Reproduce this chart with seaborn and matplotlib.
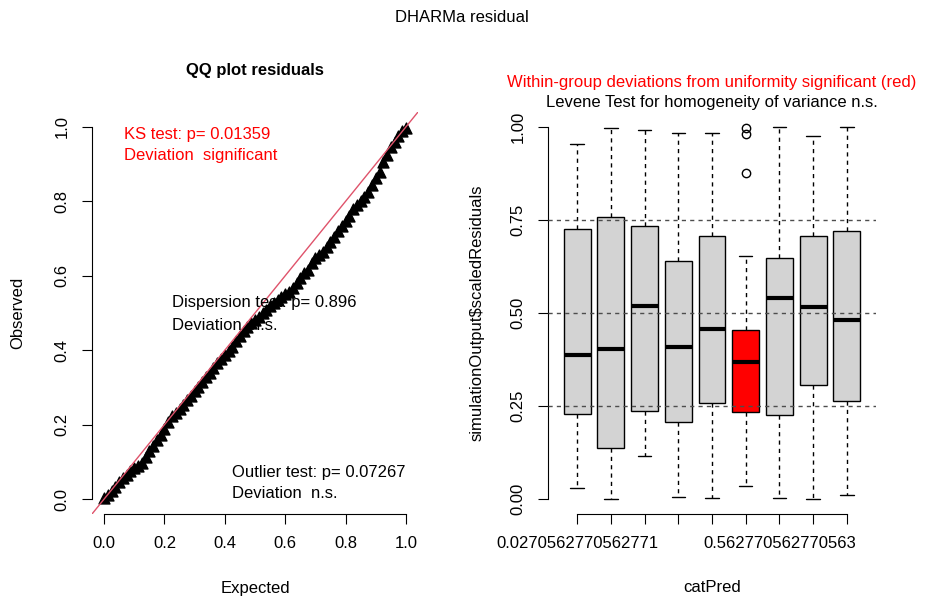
import numpy as np
import pandas as pd
import seaborn as sns
import matplotlib
matplotlib.use("Agg")
import matplotlib.pyplot as plt

# QQ plot: expected vs observed quantiles of the scaled residuals
expected = [0.0, 0.0125, 0.025, 0.0375, 0.05, 0.0625, 0.075, 0.0875, 0.1, 0.1125,
            0.125, 0.1375, 0.15, 0.1625, 0.175, 0.1875, 0.2, 0.2125, 0.225, 0.2375,
            0.25, 0.2625, 0.275, 0.2875, 0.3, 0.3125, 0.325, 0.3375, 0.35, 0.3625,
            0.375, 0.3875, 0.4, 0.4125, 0.425, 0.4375, 0.45, 0.4625, 0.475, 0.4875,
            0.5, 0.5125, 0.525, 0.5375, 0.55, 0.5625, 0.575, 0.5875, 0.6, 0.6125,
            0.625, 0.6375, 0.65, 0.6625, 0.675, 0.6875, 0.7, 0.7125, 0.725, 0.7375,
            0.75, 0.7625, 0.775, 0.7875, 0.8, 0.8125, 0.825, 0.8375, 0.85, 0.8625,
            0.875, 0.8875, 0.9, 0.9125, 0.925, 0.9375, 0.95, 0.9625, 0.975, 0.9875, 1.0]
observed = [0.003, 0.012, 0.022, 0.033, 0.045, 0.056, 0.066, 0.076, 0.083, 0.088,
            0.096, 0.112, 0.128, 0.142, 0.158, 0.172, 0.188, 0.208, 0.222, 0.232,
            0.241, 0.252, 0.265, 0.278, 0.291, 0.301, 0.314, 0.328, 0.340, 0.352,
            0.365, 0.377, 0.387, 0.398, 0.410, 0.424, 0.438, 0.451, 0.463, 0.472,
            0.481, 0.490, 0.499, 0.507, 0.518, 0.528, 0.536, 0.544, 0.550, 0.557,
            0.566, 0.580, 0.595, 0.607, 0.615, 0.633, 0.648, 0.655, 0.665, 0.677,
            0.690, 0.705, 0.721, 0.735, 0.747, 0.760, 0.780, 0.790, 0.800, 0.812,
            0.826, 0.845, 0.862, 0.880, 0.905, 0.925, 0.945, 0.960, 0.975, 0.990, 0.998]

# residuals vs catPred: box statistics per group
whis_lo = [0.030, 0.000, 0.117, 0.006, 0.004, 0.034, 0.004, 0.000, 0.010]
q1 = [0.229, 0.137, 0.238, 0.208, 0.258, 0.234, 0.225, 0.307, 0.264]
med = [0.386, 0.404, 0.520, 0.409, 0.456, 0.368, 0.540, 0.517, 0.480]
q3 = [0.727, 0.758, 0.735, 0.640, 0.707, 0.453, 0.649, 0.707, 0.719]
whis_hi = [0.955, 0.996, 0.991, 0.984, 0.984, 0.654, 1.000, 0.975, 1.000]
fliers = [[], [], [], [], [], [0.875, 0.982, 0.998], [], [], []]
significant = [False, False, False, False, False, True, False, False, False]
cat_labels = ["0.0270562770562771", "", "", "", "", "", "0.562770562770563", "", ""]

sns.set_style("white")
plt.rcParams['font.family'] = ['Liberation Sans', 'DejaVu Sans']
plt.rcParams['text.color'] = 'black'
plt.rcParams['axes.labelcolor'] = 'black'
plt.rcParams['xtick.color'] = 'black'
plt.rcParams['ytick.color'] = 'black'

W, H = 925, 603
fig = plt.figure(figsize=(W / 100, H / 100), dpi=100)


def px(x, y):
    return x / W, 1 - y / H


ax1 = fig.add_axes([92 / W, 89 / H, 326 / W, 402 / H])
ax2 = fig.add_axes([548 / W, 89 / H, 328 / W, 402 / H])

# ---- left: QQ plot
df = pd.DataFrame({"Expected": expected, "Observed": observed})
sns.scatterplot(data=df, x="Expected", y="Observed", ax=ax1, marker="^", s=62,
                color="black", edgecolor="black", linewidth=1.0, legend=False, zorder=3)
ax1.axline((0, 0), slope=1, color="#DF536B", lw=1, zorder=4)
ax1.set_xlim(-0.04, 1.04)
ax1.set_ylim(-0.04, 1.04)
ax1.set_xticks([0, 0.2, 0.4, 0.6, 0.8, 1.0])
ax1.set_yticks([0, 0.2, 0.4, 0.6, 0.8, 1.0])
ax1.set_xticklabels(["0.0", "0.2", "0.4", "0.6", "0.8", "1.0"])
ax1.set_yticklabels(["0.0", "0.2", "0.4", "0.6", "0.8", "1.0"])
ax1.set_xlabel("")
ax1.set_ylabel("")
ax1.spines["left"].set_bounds(0, 1)
ax1.spines["bottom"].set_bounds(0, 1)

# ---- right: boxplots
stats = []
for i in range(len(med)):
    stats.append(dict(whislo=whis_lo[i], q1=q1[i], med=med[i], q3=q3[i],
                      whishi=whis_hi[i], fliers=fliers[i]))
pos = list(range(1, len(med) + 1))
bp = ax2.bxp(stats, positions=pos, widths=0.8, capwidths=0.4, patch_artist=True,
             boxprops=dict(facecolor="#D3D3D3", edgecolor="black", linewidth=1),
             medianprops=dict(color="black", linewidth=3, solid_capstyle="butt"),
             whiskerprops=dict(color="black", linewidth=1, linestyle=(0, (3, 3))),
             capprops=dict(color="black", linewidth=1),
             flierprops=dict(marker="o", markerfacecolor="none", markeredgecolor="black",
                             markersize=6, markeredgewidth=1))
for box, sig in zip(bp["boxes"], significant):
    if sig:
        box.set_facecolor("red")
for v in [0.25, 0.5, 0.75]:
    ax2.axhline(v, color="#4d4d4d", lw=1, linestyle=(0, (3, 3)), zorder=5)
ax2.set_xlim(0.14, 9.86)
ax2.set_ylim(-0.04, 1.04)
ax2.set_xticks(pos)
ax2.set_xticklabels(cat_labels)
ax2.set_yticks([0, 0.25, 0.5, 0.75, 1.0])
ax2.set_yticklabels(["0.00", "0.25", "0.50", "0.75", "1.00"])
ax2.spines["left"].set_bounds(0, 1)
ax2.spines["bottom"].set_bounds(1, 9)

for ax in (ax1, ax2):
    ax.spines["top"].set_visible(False)
    ax.spines["right"].set_visible(False)
    for s in ("left", "bottom"):
        ax.spines[s].set_color("black")
        ax.spines[s].set_linewidth(0.8)
    ax.tick_params(direction="out", length=7.2, width=0.8, colors="black",
                   labelsize=12, pad=9, left=True, bottom=True)
    for lab in ax.get_yticklabels():
        lab.set_rotation(90)
        lab.set_va("center")

# ---- texts
fig.text(*px(462, 17), "DHARMa residual", ha="center", va="center", fontsize=12)
fig.text(*px(255, 70), "QQ plot residuals", ha="center", va="center", fontsize=12,
         fontweight="bold")
fig.text(*px(712, 82), "Within-group deviations from uniformity significant (red)",
         ha="center", va="center", fontsize=12, color="red")
fig.text(*px(712, 103), "Levene Test for homogeneity of variance n.s.",
         ha="center", va="center", fontsize=12)

fig.text(*px(124, 134), "KS test: p= 0.01359", ha="left", va="center", fontsize=12, color="red")
fig.text(*px(124, 156), "Deviation  significant", ha="left", va="center", fontsize=12, color="red")
fig.text(*px(172, 303), "Dispersion test: p= 0.896", ha="left", va="center", fontsize=12)
fig.text(*px(172, 325), "Deviation  n.s.", ha="left", va="center", fontsize=12)
fig.text(*px(232, 473), "Outlier test: p= 0.07267", ha="left", va="center", fontsize=12)
fig.text(*px(232, 494), "Deviation  n.s.", ha="left", va="center", fontsize=12)

fig.text(*px(255, 588), "Expected", ha="center", va="center", fontsize=12)
fig.text(*px(18, 313), "Observed", ha="center", va="center", fontsize=12, rotation=90)
fig.text(*px(712, 588), "catPred", ha="center", va="center", fontsize=12)
fig.text(*px(477, 313), "simulationOutput$scaledResiduals", ha="center", va="center",
         fontsize=12, rotation=90)

fig.savefig("out.png", dpi=100)
